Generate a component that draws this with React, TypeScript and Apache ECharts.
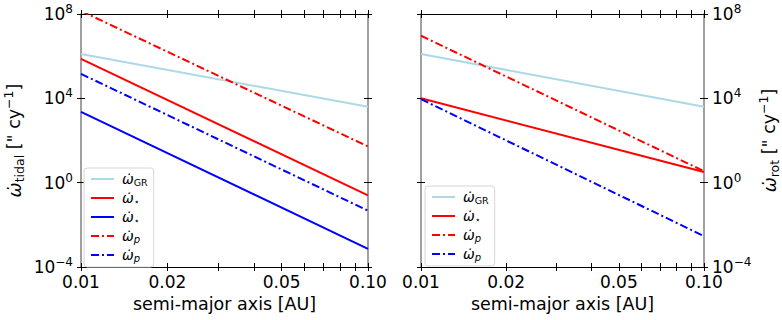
import React, { useEffect, useRef } from 'react';
import * as echarts from 'echarts';

// semi-major axis range [AU]
const aRange = [0.01, 0.1];
const xTickValues = [0.01, 0.02, 0.03, 0.04, 0.05, 0.06, 0.07, 0.08, 0.09, 0.1];
const xLabelValues = [0.01, 0.02, 0.05, 0.1];
const yExpMin = -4;
const yExpMax = 8;
const yExpStep = 4;

// left panel (tidal) values at a = 0.01 and a = 0.1
const leftGR = [1.26e6, 3.98e3];
const leftStarRed = [7.4e5, 0.25];
const leftStarBlue = [2.3e3, 7.2e-4];
const leftPRed = [1.4e8, 52];
const leftPBlue = [1.45e5, 0.047];

// right panel (rotational) values at a = 0.01 and a = 0.1
const rightGR = [1.26e6, 3.98e3];
const rightStarRed = [1.0e4, 3.2];
const rightPRed = [9.3e6, 3.5];
const rightPBlue = [9.1e3, 2.9e-3];

const FONT = 'DejaVu Sans';
const LIGHTBLUE = '#add8e6';
const RED = '#ff0000';
const BLUE = '#0000ff';
const DASHDOT = [8, 3, 2, 3];

const clampX = (v: number) => Math.max(-2, Math.min(-1, v));
const xTicksLog = xTickValues.map((v) => clampX(Math.log10(v)));
const xLabelsLog = xLabelValues.map((v) => clampX(Math.log10(v)));

const toPts = (vals: number[]) =>
  vals.map((v, i) => [Math.log10(aRange[i]), Math.log10(v)]);

const legendLabel: Record<string, string> = {
  gr: '{w|ω̇}{sub|GR}',
  starR: '{w|ω̇}{sub|⋆}',
  starB: '{w|ω̇}{sub|⋆}',
  pR: '{w|ω̇}{subi|p}',
  pB: '{w|ω̇}{subi|p}',
};

const legendRich = {
  w: { fontFamily: FONT, fontSize: 14, fontStyle: 'italic', color: '#000', lineHeight: 16 },
  sub: { fontFamily: FONT, fontSize: 9.5, color: '#000', verticalAlign: 'bottom', lineHeight: 12 },
  subi: { fontFamily: FONT, fontSize: 10, fontStyle: 'italic', color: '#000', verticalAlign: 'bottom', lineHeight: 12 },
};

const nameRich = {
  w: { fontFamily: FONT, fontSize: 18, fontStyle: 'italic', color: '#000', lineHeight: 24 },
  sub: { fontFamily: FONT, fontSize: 12.5, color: '#000', verticalAlign: 'bottom', lineHeight: 16 },
  t: { fontFamily: FONT, fontSize: 17.5, color: '#000', lineHeight: 24 },
  sup: { fontFamily: FONT, fontSize: 12.5, color: '#000', verticalAlign: 'top', lineHeight: 16 },
};

function makeX(g: number) {
  const base = {
    gridIndex: g,
    type: 'value',
    min: -2,
    max: -1,
    splitLine: { show: false },
  };
  const tick = (inside: boolean) => ({
    show: true,
    inside,
    length: 4,
    customValues: xTicksLog,
    lineStyle: { color: '#000', width: 1 },
  });
  return [
    {
      ...base,
      position: 'bottom',
      axisLine: { show: true, onZero: false, lineStyle: { color: '#000', width: 1 } },
      axisTick: tick(false),
      axisLabel: {
        show: true,
        customValues: xLabelsLog,
        margin: 6,
        fontFamily: FONT,
        fontSize: 17,
        color: '#000',
        formatter: (v: number) => Math.pow(10, v).toFixed(2),
      },
      name: 'semi-major axis [AU]',
      nameLocation: 'middle',
      nameGap: 27,
      nameTextStyle: { fontFamily: FONT, fontSize: 17.5, color: '#000' },
    },
    {
      ...base,
      position: 'bottom',
      axisLine: { show: false, onZero: false },
      axisTick: tick(true),
      axisLabel: { show: false },
    },
    {
      ...base,
      position: 'top',
      axisLine: { show: true, onZero: false, lineStyle: { color: '#000', width: 1 } },
      axisTick: tick(false),
      axisLabel: { show: false },
    },
    {
      ...base,
      position: 'top',
      axisLine: { show: false, onZero: false },
      axisTick: tick(true),
      axisLabel: { show: false },
    },
  ];
}

const yLabelFormatter = (v: number) => {
  const e = Math.round(v);
  const s = e < 0 ? '−' + String(-e) : String(e);
  return `{b|10}{s|${s}}`;
};

const yLabelRich = {
  b: { fontFamily: FONT, fontSize: 17, color: '#000', lineHeight: 22 },
  s: { fontFamily: FONT, fontSize: 12, color: '#000', verticalAlign: 'top', lineHeight: 14 },
};

function makeY(g: number) {
  const base = {
    gridIndex: g,
    type: 'value',
    min: yExpMin,
    max: yExpMax,
    interval: yExpStep,
    splitLine: { show: false },
  };
  const tick = (inside: boolean) => ({
    show: true,
    inside,
    length: 4,
    lineStyle: { color: '#000', width: 1 },
  });
  const spine = { show: true, onZero: false, lineStyle: { color: '#808080', width: 1.5 } };
  const label = (show: boolean) => ({
    show,
    margin: 8,
    formatter: yLabelFormatter,
    rich: yLabelRich,
  });
  const yName =
    g === 0
      ? '{w|ω̇}{sub|tidal}{t| [" cy}{sup|−1}{t|]}'
      : '{w|ω̇}{sub|rot}{t| [" cy}{sup|−1}{t|]}';
  return [
    {
      ...base,
      position: 'left',
      axisLine: spine,
      axisTick: tick(false),
      axisLabel: label(g === 0),
      ...(g === 0
        ? {
            name: yName,
            nameLocation: 'middle',
            nameRotate: 90,
            nameGap: 55,
            nameTextStyle: { rich: nameRich },
          }
        : {}),
    },
    {
      ...base,
      position: 'left',
      axisLine: { show: false, onZero: false },
      axisTick: tick(true),
      axisLabel: { show: false },
    },
    {
      ...base,
      position: 'right',
      axisLine: spine,
      axisTick: tick(false),
      axisLabel: label(g === 1),
      ...(g === 1
        ? {
            name: yName,
            nameLocation: 'middle',
            nameRotate: 90,
            nameGap: 53,
            nameTextStyle: { rich: nameRich },
          }
        : {}),
    },
    {
      ...base,
      position: 'right',
      axisLine: { show: false, onZero: false },
      axisTick: tick(true),
      axisLabel: { show: false },
    },
  ];
}

function lineSeries(id: string, g: number, vals: number[], color: string, dashed: boolean, z: number) {
  return {
    type: 'line',
    name: id,
    xAxisIndex: g * 4,
    yAxisIndex: g * 4,
    data: toPts(vals),
    symbol: 'none',
    clip: true,
    z,
    lineStyle: { color, width: 2, type: dashed ? DASHDOT : 'solid' },
    itemStyle: { color },
  };
}

const legendBase = {
  orient: 'vertical',
  selectedMode: false,
  itemWidth: 23,
  itemHeight: 14,
  itemGap: 4,
  padding: [4, 6, 4, 6],
  backgroundColor: '#ffffff',
  borderColor: '#d6d6d6',
  borderWidth: 1,
  borderRadius: 3,
  z: 10,
  itemStyle: { opacity: 0, borderWidth: 0 },
  formatter: (name: string) => legendLabel[name.replace(/2$/, '')],
  textStyle: { rich: legendRich, padding: [0, 0, 0, 3] },
};

export default function App() {
  const ref = useRef<HTMLDivElement>(null);
  useEffect(() => {
    if (!ref.current) return;
    const chart = echarts.init(ref.current, undefined, { renderer: 'svg' });
    chart.setOption({
      animation: false,
      backgroundColor: '#ffffff',
      grid: [
        { left: 81, top: 14, width: 287, height: 253 },
        { left: 421, top: 14, width: 288, height: 253 },
      ],
      xAxis: [...makeX(0), ...makeX(1)],
      yAxis: [...makeY(0), ...makeY(1)],
      legend: [
        { ...legendBase, left: 84, top: 168, data: ['gr', 'starR', 'starB', 'pR', 'pB'] },
        { ...legendBase, left: 425, top: 186, data: ['gr2', 'starR2', 'pR2', 'pB2'] },
      ],
      series: [
        lineSeries('gr', 0, leftGR, LIGHTBLUE, false, 2),
        lineSeries('starR', 0, leftStarRed, RED, false, 3),
        lineSeries('starB', 0, leftStarBlue, BLUE, false, 4),
        lineSeries('pR', 0, leftPRed, RED, true, 5),
        lineSeries('pB', 0, leftPBlue, BLUE, true, 6),
        lineSeries('gr2', 1, rightGR, LIGHTBLUE, false, 2),
        lineSeries('starR2', 1, rightStarRed, RED, false, 3),
        lineSeries('pR2', 1, rightPRed, RED, true, 5),
        lineSeries('pB2', 1, rightPBlue, BLUE, true, 6),
      ],
    });
    return () => chart.dispose();
  }, []);
  return <div ref={ref} style={{ width: 782, height: 320, position: 'absolute', left: 0, top: 0 }} />;
}
